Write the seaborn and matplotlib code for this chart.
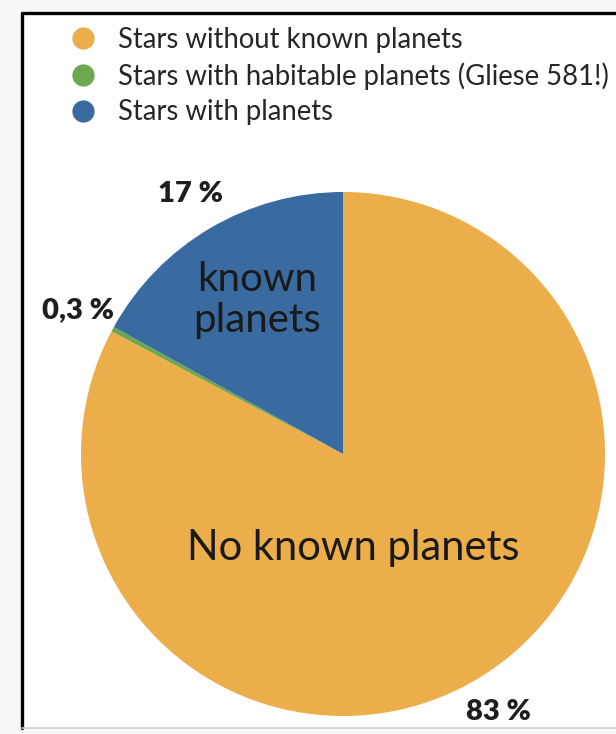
import matplotlib
matplotlib.use("Agg")
import matplotlib.pyplot as plt
from matplotlib.lines import Line2D
from matplotlib.patches import Rectangle
import seaborn as sns

# Share of stars by planet status
categories = ["Stars without known planets",
              "Stars with habitable planets (Gliese 581!)",
              "Stars with planets"]
shares = [83, 0.3, 17]
colors = ["#EBAE4B", "#6BA84F", "#3A6BA0"]
inside_labels = ["No known planets", "", "known\nplanets"]

sns.set_theme(style="white")
plt.rcParams["font.family"] = ["Lato", "DejaVu Sans"]

W, H = 616, 734
fig = plt.figure(figsize=(W / 100, H / 100), dpi=100)
fig.patch.set_facecolor("#f7f7f7")

# white panel with a heavy frame on the top and left
fig.patches.append(Rectangle((22 / W, 6 / H), 1.0, (728 - 13) / H, transform=fig.transFigure,
                             facecolor="white", edgecolor="none", zorder=-5))
fig.add_artist(Line2D([22 / W, 1.0], [1 - 13 / H, 1 - 13 / H], transform=fig.transFigure,
                      color="black", lw=2.4, zorder=1))
fig.add_artist(Line2D([22 / W, 22 / W], [1 - 13 / H, 6 / H], transform=fig.transFigure,
                      color="black", lw=2.4, zorder=1))
fig.add_artist(Line2D([22 / W, 1.0], [6 / H, 6 / H], transform=fig.transFigure,
                      color="#cfcfcf", lw=1.2, zorder=1))

# pie axes: centre (343, 454) px, radius 262 px
cx, cy, r = 343, 454, 262
ax = fig.add_axes([(cx - r) / W, (H - cy - r) / H, 2 * r / W, 2 * r / H])
ax.set_facecolor("none")
ax.set_zorder(2)


def fmt(v):
    s = f"{v:g}".replace(".", ",")
    return s + " %"


vals_iter = iter(shares)
wedges, texts, autotexts = ax.pie(
    shares, colors=colors, startangle=90, counterclock=False,
    autopct=lambda p: fmt(next(vals_iter)), pctdistance=1.15,
    wedgeprops=dict(linewidth=0),
    textprops=dict(fontsize=21, fontweight="heavy", color="#1e1e1e"),
)
for t in autotexts:
    t.set_clip_on(False)
ax.set_xlim(-1, 1)
ax.set_ylim(-1, 1)
ax.axis("off")

# labels inside the slices
ax.text((257 - cx) / r, (cy - 300) / r, inside_labels[2], ha="center", va="center",
        fontsize=29, color="#1a1a1a", linespacing=1.15)
ax.text((353 - cx) / r, (cy - 548) / r, inside_labels[0], ha="center", va="center",
        fontsize=30, color="#1a1a1a")

# legend with round markers
handles = [Line2D([0], [0], marker="o", linestyle="none", markersize=16,
                  markerfacecolor=c, markeredgecolor="none") for c in colors]
fig.legend(handles, categories, loc="upper left",
           bbox_to_anchor=(65 / W, 1 - 27 / H), frameon=False,
           fontsize=19.8, handlelength=1.3, handletextpad=0.62,
           labelspacing=0.34, borderpad=0, borderaxespad=0)

fig.savefig("out.png", dpi=100, facecolor=fig.get_facecolor())
